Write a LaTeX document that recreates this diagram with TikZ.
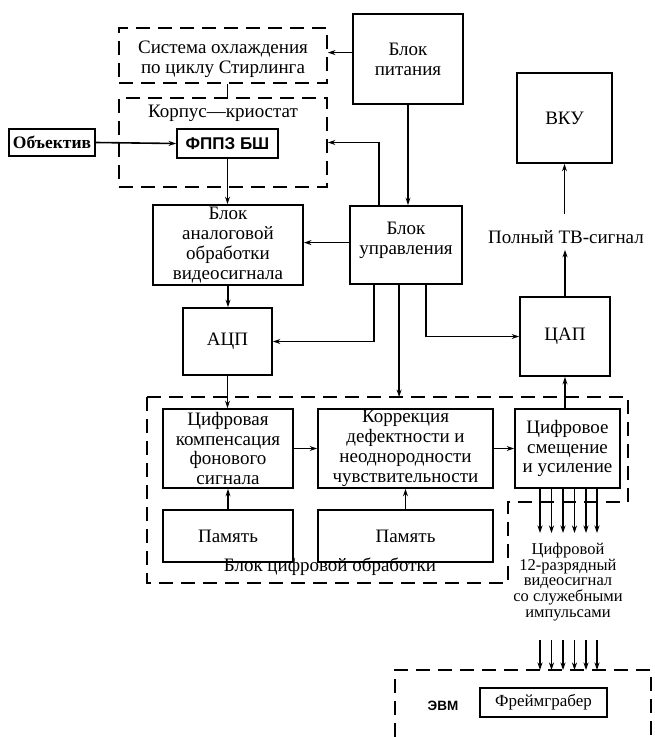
\documentclass[tikz,border=0pt]{standalone}
\usepackage{fontspec}
\setmainfont{Liberation Serif}
\setsansfont{Liberation Sans}
\usetikzlibrary{arrows.meta,calc}
\newcommand\myfs[2]{\fontsize{#1}{#2}\selectfont}
\begin{document}
\begin{tikzpicture}[x=1pt,y=-1pt,
  every node/.style={font=\myfs{19}{19.8}, align=center, inner sep=0pt},
  box/.style={draw, line width=1.8pt},
  dbox/.style={draw, line width=1.8pt, dash pattern=on 14pt off 8pt},
  arr/.style={line width=1.6pt, -{Stealth[length=7.5pt,width=5pt]}},
  ln/.style={line width=1.6pt}]
\useasboundingbox (0,0) rectangle (654,737);

% top row
\node[dbox, minimum width=208pt, minimum height=55pt] (cool) at (223,55.5) {};
\node (coolt) at (223,59) {Система охлаждения\\по циклу Стирлинга};
\node[box, minimum width=110pt, minimum height=90pt] (pit) at (408,59) {Блок\\питания};
\node[dbox, minimum width=208pt, minimum height=89pt] (korp) at (223,142.5) {};
\node (korpt) at (223,113) {Корпус—криостат};
\node[box, minimum width=101pt, minimum height=29pt, font=\sffamily\bfseries\myfs{17}{19}] (fppz) at (227.5,143.5) {ФППЗ БШ};
\node[box, minimum width=86pt, minimum height=27pt, font=\bfseries\myfs{17.5}{18}] (obj) at (52,142.5) {Объектив};
\node[box, minimum width=95pt, minimum height=90pt] (vku) at (564.5,118) {ВКУ};

% middle
\node[box, minimum width=150pt, minimum height=80pt] (analog) at (228,245) {Блок\\аналоговой\\обработки\\видеосигнала};
\node[box, minimum width=112pt, minimum height=78pt] (upr) at (406,245) {};
\node (uprt) at (406,240) {Блок\\управления};
\node (tv) at (566,237) {Полный ТВ-сигнал};
\node[box, minimum width=89pt, minimum height=67pt] (adc) at (227.5,341.5) {АЦП};
\node[box, minimum width=90pt, minimum height=79pt] (dac) at (565,336.5) {ЦАП};

% digital block
\draw[dbox] (147,397) coordinate (dignw) -- (628,397) -- (628,502) -- (508,502) -- (508,583) -- (147,583) -- cycle;
\node[box, minimum width=130pt, minimum height=79pt] (komp) at (228,448.5) {Цифровая\\компенсация\\фонового\\сигнала};
\node[box, minimum width=175pt, minimum height=79pt] (korr) at (405.5,448.5) {Коррекция\\дефектности и\\неоднородности\\чувствительности};
\node[box, minimum width=105pt, minimum height=79pt] (smes) at (567.5,448.5) {Цифровое\\смещение\\и усиление};
\node[box, minimum width=130pt, minimum height=52pt] (mem1) at (228,536) {Память};
\node[box, minimum width=175pt, minimum height=52pt] (mem2) at (405.5,536) {Память};
\node (digl) at (330,567) {Блок цифровой обработки};

% video signal text
\node[font=\myfs{16.5}{15.75}] (dv) at (568,582) {Цифровой\\12-разрядный\\видеосигнал\\со служебными\\импульсами};
\coordinate (dvtop) at (568,533);
\coordinate (dvbot) at (568,640);

% EVM
\draw[dbox] (395,737) -- (395,670) coordinate (evmnw) -- (651,670) -- (651,737);
\node[font=\sffamily\bfseries\myfs{13.5}{16}] (evm) at (443,706) {ЭВМ};
\node[box, minimum width=127pt, minimum height=29pt, font=\myfs{17}{18}] (frame) at (543.5,702.5) {Фреймграбер};

% connectors
\coordinate (p1) at ($(pit.north west)!0.43!(pit.south west)$);
\draw[arr] (p1) -- (p1 -| cool.east);
\draw[ln] (fppz.north |- cool.south) -- (fppz.north |- korp.north);
\draw[arr] (obj.east) -- (fppz.west);
\draw[arr] (fppz.south) -- (fppz.south |- analog.north);
\draw[arr] (pit.south) -- (pit.south |- upr.north);
\coordinate (u0) at ($(upr.north west)+(30,0)$);
\draw[arr] (u0) |- (korp.east);
\coordinate (p2) at ($(upr.north west)!0.47!(upr.south west)$);
\draw[arr] (p2) -- (p2 -| analog.east);
\draw[arr] (analog.south) -- (analog.south |- adc.north);
\coordinate (u1) at ($(upr.south west)+(25,0)$);
\coordinate (u2) at ($(upr.south west)+(50,0)$);
\coordinate (u3) at ($(upr.south west)+(77,0)$);
\draw[arr] (u1) |- (adc.east);
\draw[arr] (u2) -- (u2 |- dignw);
\draw[arr] (u3) |- (dac.west);
\coordinate (tvb) at ($(tv.south)+(0,6)$);
\coordinate (tvt) at ($(tv.north)+(0,-16)$);
\draw[arr] (dac.north) -- (dac.north |- tvb);
\draw[arr] (vku.south |- tvt) -- (vku.south);
\draw[arr] (adc.south) -- (adc.south |- komp.north);
\draw[arr] (komp.east) -- (korr.west);
\draw[arr] (korr.east) -- (smes.west);
\draw[arr] (mem1.north) -- (mem1.north |- komp.south);
\draw[arr] (mem2.north) -- (mem2.north |- korr.south);
\draw[arr] (dac.south |- smes.north) -- (dac.south);
\foreach \x in {540,551.5,563,574.5,586,597} {
  \draw[arr] (\x,0 |- smes.south) -- (\x,0 |- dvtop);
  \draw[arr] (\x,0 |- dvbot) -- (\x,0 |- evmnw);
}
\end{tikzpicture}
\end{document}
